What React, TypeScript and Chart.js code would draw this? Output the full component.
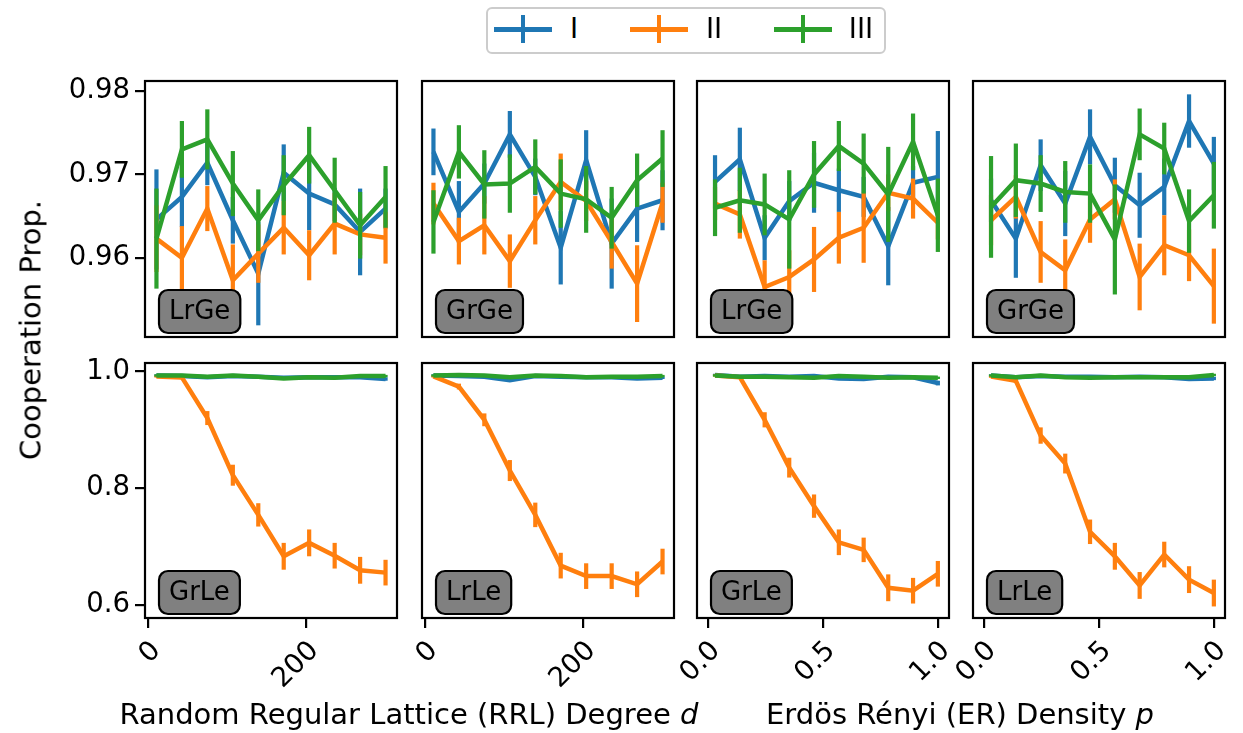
import React, { useEffect, useRef } from "react";
import { Chart, registerables } from "chart.js";

Chart.register(...registerables);

// ---------------- data ----------------
const seriesNames = ["I", "II", "III"];
const xRRL = [10, 42.2, 74.4, 106.7, 138.9, 171.1, 203.3, 235.6, 267.8, 300];
const xER = [0.03, 0.138, 0.246, 0.353, 0.461, 0.569, 0.677, 0.784, 0.892, 1.0];
const xTicksRRL = [0, 200];
const xTicksER = [0, 0.5, 1.0];
const yTicksTop = [0.96, 0.97, 0.98];
const yTicksBottom = [0.6, 0.8, 1.0];

// Top row, RRL, LrGe
const rrlLrGeI = [0.9646, 0.9673, 0.9714, 0.9645, 0.9581, 0.9702, 0.9677, 0.9664, 0.9631, 0.9659];
const rrlLrGeIErr = [0.006, 0.0036, 0.0027, 0.0028, 0.0062, 0.0034, 0.0044, 0.002, 0.0052, 0.0024];
const rrlLrGeII = [0.9623, 0.96, 0.9659, 0.9573, 0.9605, 0.9636, 0.9603, 0.9641, 0.9628, 0.9624];
const rrlLrGeIIErr = [0.004, 0.0038, 0.0027, 0.0043, 0.0035, 0.0032, 0.003, 0.0037, 0.0025, 0.0031];
const rrlLrGeIII = [0.9623, 0.973, 0.9742, 0.9689, 0.9645, 0.9687, 0.9723, 0.9681, 0.9639, 0.9673];
const rrlLrGeIIIErr = [0.006, 0.0034, 0.0036, 0.0039, 0.0037, 0.0036, 0.0034, 0.0039, 0.004, 0.0037];

// Top row, RRL, GrGe
const rrlGrGeI = [0.9727, 0.9655, 0.9689, 0.9748, 0.9697, 0.9612, 0.9717, 0.9617, 0.9659, 0.9669];
const rrlGrGeIErr = [0.0028, 0.0037, 0.0024, 0.0028, 0.0022, 0.0044, 0.0036, 0.0054, 0.004, 0.0036];
const rrlGrGeII = [0.9665, 0.962, 0.9639, 0.9596, 0.9645, 0.9691, 0.9668, 0.9619, 0.9569, 0.9666];
const rrlGrGeIIErr = [0.0025, 0.0028, 0.0035, 0.0032, 0.0029, 0.0034, 0.0024, 0.0032, 0.0046, 0.0024];
const rrlGrGeIII = [0.9643, 0.9727, 0.9688, 0.9689, 0.9709, 0.9677, 0.967, 0.9648, 0.9693, 0.9719];
const rrlGrGeIIIErr = [0.0038, 0.0032, 0.0041, 0.0035, 0.0033, 0.0041, 0.004, 0.0037, 0.0032, 0.0034];

// Top row, ER, LrGe
const erLrGeI = [0.9691, 0.9718, 0.9624, 0.9668, 0.969, 0.9681, 0.9673, 0.9614, 0.969, 0.9697];
const erLrGeIErr = [0.0032, 0.0038, 0.0027, 0.0024, 0.0036, 0.0026, 0.0024, 0.0047, 0.002, 0.0055];
const erLrGeII = [0.9665, 0.9652, 0.9565, 0.9577, 0.9598, 0.9624, 0.9636, 0.9678, 0.9671, 0.9642];
const erLrGeIIErr = [0.002, 0.0029, 0.0032, 0.0032, 0.0039, 0.0031, 0.0042, 0.0022, 0.0024, 0.002];
const erLrGeIII = [0.966, 0.9669, 0.9664, 0.9646, 0.97, 0.9734, 0.9713, 0.9676, 0.9739, 0.9651];
const erLrGeIIIErr = [0.0034, 0.0039, 0.0037, 0.0059, 0.004, 0.003, 0.0036, 0.0057, 0.0034, 0.0044];

// Top row, ER, GrGe
const erGrGeI = [0.9669, 0.9623, 0.9711, 0.9665, 0.9745, 0.9687, 0.9663, 0.9685, 0.9764, 0.9713];
const erGrGeIErr = [0.0026, 0.0047, 0.0031, 0.0039, 0.0033, 0.0033, 0.0039, 0.0034, 0.0032, 0.0032];
const erGrGeII = [0.9645, 0.9673, 0.9607, 0.9585, 0.9646, 0.967, 0.9577, 0.9615, 0.9603, 0.9566];
const erGrGeIIErr = [0.003, 0.0026, 0.0037, 0.0037, 0.0028, 0.0024, 0.004, 0.0036, 0.0031, 0.0045];
const erGrGeIII = [0.9661, 0.9693, 0.9689, 0.9679, 0.9677, 0.9622, 0.9748, 0.9731, 0.9644, 0.9675];
const erGrGeIIIErr = [0.0061, 0.0044, 0.0034, 0.0037, 0.0035, 0.0066, 0.0031, 0.0031, 0.0038, 0.004];

// Bottom row, RRL, GrLe
const rrlGrLeI = [0.993, 0.992, 0.99, 0.992, 0.991, 0.989, 0.99, 0.99, 0.99, 0.987];
const rrlGrLeIErr = [0.002, 0.002, 0.002, 0.002, 0.002, 0.002, 0.002, 0.002, 0.002, 0.003];
const rrlGrLeII = [0.9914, 0.9897, 0.92, 0.822, 0.754, 0.683, 0.706, 0.684, 0.659, 0.655];
const rrlGrLeIIErr = [0.002, 0.003, 0.012, 0.018, 0.02, 0.023, 0.023, 0.022, 0.023, 0.022];
const rrlGrLeIII = [0.993, 0.993, 0.991, 0.993, 0.991, 0.988, 0.99, 0.989, 0.992, 0.992];
const rrlGrLeIIIErr = [0.002, 0.002, 0.002, 0.002, 0.002, 0.002, 0.002, 0.002, 0.002, 0.002];

// Bottom row, RRL, LrLe
const rrlLrLeI = [0.993, 0.992, 0.991, 0.985, 0.992, 0.991, 0.99, 0.99, 0.988, 0.989];
const rrlLrLeIErr = [0.002, 0.002, 0.002, 0.003, 0.002, 0.002, 0.002, 0.002, 0.002, 0.002];
const rrlLrLeII = [0.9914, 0.974, 0.917, 0.83, 0.754, 0.667, 0.649, 0.649, 0.635, 0.674];
const rrlLrLeIIErr = [0.002, 0.005, 0.011, 0.018, 0.021, 0.022, 0.022, 0.022, 0.022, 0.022];
const rrlLrLeIII = [0.993, 0.994, 0.993, 0.99, 0.993, 0.992, 0.99, 0.991, 0.991, 0.992];
const rrlLrLeIIIErr = [0.002, 0.002, 0.002, 0.002, 0.002, 0.002, 0.002, 0.002, 0.002, 0.002];

// Bottom row, ER, GrLe
const erGrLeI = [0.994, 0.991, 0.992, 0.991, 0.992, 0.988, 0.987, 0.991, 0.99, 0.98];
const erGrLeIErr = [0.002, 0.002, 0.002, 0.002, 0.002, 0.002, 0.002, 0.002, 0.002, 0.004];
const erGrLeII = [0.993, 0.99, 0.917, 0.835, 0.769, 0.707, 0.694, 0.629, 0.624, 0.653];
const erGrLeIIErr = [0.002, 0.002, 0.013, 0.017, 0.02, 0.022, 0.021, 0.023, 0.022, 0.022];
const erGrLeIII = [0.993, 0.991, 0.991, 0.99, 0.989, 0.992, 0.991, 0.989, 0.99, 0.989];
const erGrLeIIIErr = [0.002, 0.002, 0.002, 0.002, 0.002, 0.002, 0.002, 0.002, 0.002, 0.002];

// Bottom row, ER, LrLe
const erLrLeI = [0.993, 0.99, 0.992, 0.991, 0.991, 0.99, 0.991, 0.99, 0.987, 0.988];
const erLrLeIErr = [0.002, 0.002, 0.002, 0.002, 0.002, 0.002, 0.002, 0.002, 0.002, 0.003];
const erLrLeII = [0.991, 0.984, 0.89, 0.842, 0.725, 0.683, 0.633, 0.686, 0.643, 0.62];
const erLrLeIIErr = [0.002, 0.004, 0.014, 0.017, 0.021, 0.023, 0.023, 0.022, 0.023, 0.023];
const erLrLeIII = [0.993, 0.99, 0.993, 0.99, 0.989, 0.99, 0.99, 0.99, 0.99, 0.994];
const erLrLeIIIErr = [0.002, 0.002, 0.002, 0.002, 0.002, 0.002, 0.002, 0.002, 0.002, 0.002];

// ---------------- style / layout ----------------
const FONT = '"DejaVu Sans", sans-serif';
const COLORS = ["#1f77b4", "#ff7f0e", "#2ca02c"];
const LINE_W = 4.5;
const ERR_W = 4.2;
const TICK_FONT = 27.5;
const BOX_FONT = 26;
const LABEL_FONT = 29;
const PANEL_LEFT = [145, 422, 697, 973];
const PANEL_TOP = [81, 363];
const PW = 252;
const PH = [256, 255];
const YW = 100; // y-axis area width (first column)
const XH = 90; // x-axis area height (bottom row)

const Y_RANGE = [
  { min: 0.9505, max: 0.9812, ticks: yTicksTop, digits: 2 },
  { min: 0.5772, max: 1.0144, ticks: yTicksBottom, digits: 1 },
];
const X_RANGE = {
  rrl: { min: -4.5, max: 314.5, ticks: xTicksRRL, digits: 0, values: xRRL },
  er: { min: -0.0485, max: 1.0485, ticks: xTicksER, digits: 1, values: xER },
};

type PanelCfg = {
  row: number;
  col: number;
  kind: "rrl" | "er";
  label: string;
  series: { y: number[]; err: number[] }[];
};

const panels: PanelCfg[] = [
  { row: 0, col: 0, kind: "rrl", label: "LrGe", series: [
    { y: rrlLrGeI, err: rrlLrGeIErr }, { y: rrlLrGeII, err: rrlLrGeIIErr }, { y: rrlLrGeIII, err: rrlLrGeIIIErr }] },
  { row: 0, col: 1, kind: "rrl", label: "GrGe", series: [
    { y: rrlGrGeI, err: rrlGrGeIErr }, { y: rrlGrGeII, err: rrlGrGeIIErr }, { y: rrlGrGeIII, err: rrlGrGeIIIErr }] },
  { row: 0, col: 2, kind: "er", label: "LrGe", series: [
    { y: erLrGeI, err: erLrGeIErr }, { y: erLrGeII, err: erLrGeIIErr }, { y: erLrGeIII, err: erLrGeIIIErr }] },
  { row: 0, col: 3, kind: "er", label: "GrGe", series: [
    { y: erGrGeI, err: erGrGeIErr }, { y: erGrGeII, err: erGrGeIIErr }, { y: erGrGeIII, err: erGrGeIIIErr }] },
  { row: 1, col: 0, kind: "rrl", label: "GrLe", series: [
    { y: rrlGrLeI, err: rrlGrLeIErr }, { y: rrlGrLeII, err: rrlGrLeIIErr }, { y: rrlGrLeIII, err: rrlGrLeIIIErr }] },
  { row: 1, col: 1, kind: "rrl", label: "LrLe", series: [
    { y: rrlLrLeI, err: rrlLrLeIErr }, { y: rrlLrLeII, err: rrlLrLeIIErr }, { y: rrlLrLeIII, err: rrlLrLeIIIErr }] },
  { row: 1, col: 2, kind: "er", label: "GrLe", series: [
    { y: erGrLeI, err: erGrLeIErr }, { y: erGrLeII, err: erGrLeIIErr }, { y: erGrLeIII, err: erGrLeIIIErr }] },
  { row: 1, col: 3, kind: "er", label: "LrLe", series: [
    { y: erLrLeI, err: erLrLeIErr }, { y: erLrLeII, err: erLrLeIIErr }, { y: erLrLeIII, err: erLrLeIIIErr }] },
];

// error bars, label box, frame
const decoPlugin = {
  id: "panelDeco",
  afterDatasetDraw(chart: any, args: any) {
    const ds = chart.data.datasets[args.index];
    const errs: number[] = ds.errors;
    if (!errs) return;
    const { ctx, chartArea: a } = chart;
    const xs = chart.scales.x;
    const ys = chart.scales.y;
    ctx.save();
    ctx.beginPath();
    ctx.rect(a.left, a.top, a.right - a.left, a.bottom - a.top);
    ctx.clip();
    ctx.strokeStyle = ds.borderColor;
    ctx.lineWidth = ERR_W;
    ctx.lineCap = "butt";
    ds.data.forEach((p: any, j: number) => {
      const px = xs.getPixelForValue(p.x);
      ctx.beginPath();
      ctx.moveTo(px, ys.getPixelForValue(p.y - errs[j]));
      ctx.lineTo(px, ys.getPixelForValue(p.y + errs[j]));
      ctx.stroke();
    });
    ctx.restore();
  },
  afterDatasetsDraw(chart: any, _args: any, opts: any) {
    const { ctx, chartArea: a } = chart;
    ctx.save();
    // label box
    ctx.font = `${BOX_FONT}px ${FONT}`;
    const tw = ctx.measureText(opts.label).width;
    const bw = tw + 20;
    const bh = 43;
    const bx = a.left + 14;
    const by = a.bottom - 4 - bh;
    ctx.beginPath();
    (ctx as any).roundRect(bx, by, bw, bh, 9);
    ctx.fillStyle = "#808080";
    ctx.fill();
    ctx.lineWidth = 2.2;
    ctx.strokeStyle = "#000";
    ctx.stroke();
    ctx.fillStyle = "#000";
    ctx.textAlign = "center";
    ctx.textBaseline = "middle";
    ctx.fillText(opts.label, bx + bw / 2, by + bh / 2 + 1);
    // frame
    ctx.lineWidth = 2.2;
    ctx.strokeStyle = "#000";
    ctx.strokeRect(a.left, a.top, a.right - a.left, a.bottom - a.top);
    ctx.restore();
  },
};

function Panel({ cfg }: { cfg: PanelCfg }) {
  const ref = useRef<HTMLCanvasElement>(null);
  const showY = cfg.col === 0;
  const showX = cfg.row === 1;
  const padL = showY ? 0 : 25;
  const padT = 20;
  const padR = 20;
  const padB = showX ? 0 : 6;
  const ph = PH[cfg.row];
  const W = padL + (showY ? YW : 0) + PW + padR;
  const H = padT + ph + (showX ? XH : 0) + padB;
  const left = PANEL_LEFT[cfg.col] - padL - (showY ? YW : 0);
  const top = PANEL_TOP[cfg.row] - padT;

  useEffect(() => {
    const xr = X_RANGE[cfg.kind];
    const yr = Y_RANGE[cfg.row];
    const chart = new Chart(ref.current as HTMLCanvasElement, {
      type: "line",
      data: {
        datasets: cfg.series.map((s, i) => ({
          label: seriesNames[i],
          data: xr.values.map((x, j) => ({ x, y: s.y[j] })),
          errors: s.err,
          borderColor: COLORS[i],
          backgroundColor: COLORS[i],
          borderWidth: LINE_W,
          borderJoinStyle: "miter",
          pointRadius: 0,
          fill: false,
          tension: 0,
          order: 3 - i,
        })) as any,
      },
      options: {
        responsive: false,
        animation: false,
        events: [],
        layout: { padding: { left: padL, right: padR, top: padT, bottom: padB } },
        plugins: {
          legend: { display: false },
          tooltip: { enabled: false },
          panelDeco: { label: cfg.label },
        } as any,
        scales: {
          x: {
            type: "linear",
            min: xr.min,
            max: xr.max,
            display: showX,
            afterBuildTicks: (s: any) => {
              s.ticks = xr.ticks.map((v) => ({ value: v }));
            },
            afterFit: showX
              ? (s: any) => {
                  s.height = XH;
                  s.paddingLeft = 0;
                  s.paddingRight = 0;
                  s.paddingTop = 0;
                  s.paddingBottom = 0;
                }
              : undefined,
            grid: {
              drawOnChartArea: false,
              drawTicks: true,
              tickLength: 10,
              color: "#000",
              lineWidth: 2.2,
            },
            border: { display: false },
            ticks: {
              autoSkip: false,
              font: { family: FONT, size: TICK_FONT },
              color: "#000",
              minRotation: 45,
              maxRotation: 45,
              padding: 7,
              labelOffset: 8,
              callback: (v: any) => Number(v).toFixed(xr.digits),
            },
          },
          y: {
            type: "linear",
            min: yr.min,
            max: yr.max,
            display: showY,
            afterBuildTicks: (s: any) => {
              s.ticks = yr.ticks.map((v) => ({ value: v }));
            },
            afterFit: showY
              ? (s: any) => {
                  s.width = YW;
                  s.paddingLeft = 0;
                  s.paddingRight = 0;
                  s.paddingTop = 0;
                  s.paddingBottom = 0;
                }
              : undefined,
            grid: {
              drawOnChartArea: false,
              drawTicks: true,
              tickLength: 10,
              color: "#000",
              lineWidth: 2.2,
            },
            border: { display: false },
            ticks: {
              font: { family: FONT, size: TICK_FONT },
              color: "#000",
              padding: 5,
              callback: (v: any) => Number(v).toFixed(yr.digits),
            },
          },
        },
      },
      plugins: [decoPlugin as any],
    });
    return () => chart.destroy();
  }, []);

  return (
    <canvas
      ref={ref}
      width={W}
      height={H}
      style={{ position: "absolute", left, top, width: W, height: H }}
    />
  );
}

function Legend() {
  const items = [
    { name: seriesNames[0], color: COLORS[0], x: 494, tx: 574 },
    { name: seriesNames[1], color: COLORS[1], x: 630, tx: 714 },
    { name: seriesNames[2], color: COLORS[2], x: 774, tx: 861 },
  ];
  return (
    <>
      <div
        style={{
          position: "absolute",
          left: 486,
          top: 7,
          width: 396,
          height: 43,
          border: "2px solid #cccccc",
          borderRadius: 6,
          background: "rgba(255,255,255,0.8)",
        }}
      />
      {items.map((it) => (
        <React.Fragment key={it.name}>
          <div style={{ position: "absolute", left: it.x, top: 27, width: 58, height: 4.5, background: it.color }} />
          <div style={{ position: "absolute", left: it.x + 27, top: 15, width: 4.2, height: 28, background: it.color }} />
          <div
            style={{
              position: "absolute",
              left: it.tx,
              top: 29,
              transform: "translate(-50%, -50%)",
              fontFamily: FONT,
              fontSize: 27.5,
              lineHeight: 1,
              color: "#000",
              whiteSpace: "nowrap",
            }}
          >
            {it.name}
          </div>
        </React.Fragment>
      ))}
    </>
  );
}

export default function App() {
  const textStyle: React.CSSProperties = {
    position: "absolute",
    fontFamily: FONT,
    fontSize: LABEL_FONT,
    lineHeight: 1,
    color: "#000",
    whiteSpace: "nowrap",
  };
  return (
    <div
      style={{
        position: "absolute",
        left: 0,
        top: 0,
        width: 1243,
        height: 733,
        background: "#fff",
        overflow: "hidden",
      }}
    >
      {panels.map((p, i) => (
        <Panel key={i} cfg={p} />
      ))}
      <Legend />
      <div style={{ ...textStyle, left: 31, top: 330, transform: "translate(-50%, -50%) rotate(-90deg)" }}>
        Cooperation Prop.
      </div>
      <div style={{ ...textStyle, left: 409, top: 714, transform: "translate(-50%, -50%)" }}>
        Random Regular Lattice (RRL) Degree <i>d</i>
      </div>
      <div style={{ ...textStyle, left: 960, top: 714, transform: "translate(-50%, -50%)" }}>
        Erdös Rényi (ER) Density <i>p</i>
      </div>
    </div>
  );
}
